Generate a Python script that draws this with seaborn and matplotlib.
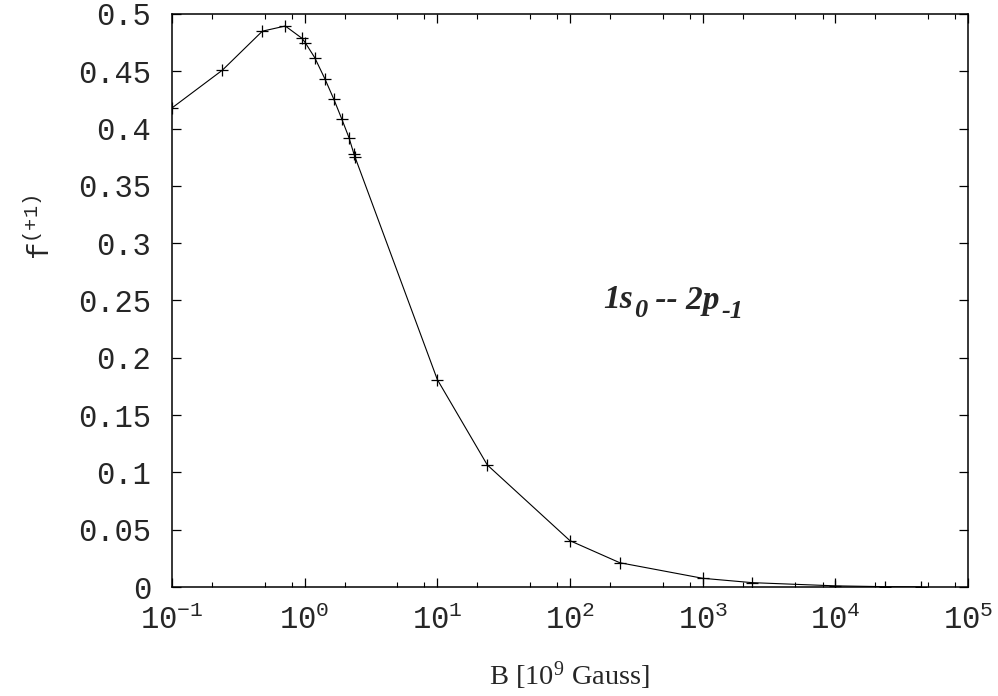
import numpy as np
import pandas as pd
import seaborn as sns
import matplotlib
matplotlib.use("Agg")
import matplotlib.pyplot as plt
from matplotlib.ticker import FixedLocator, FuncFormatter

# field strength B [10^9 Gauss] and oscillator strength f(+1)
B = [0.1, 0.24, 0.48, 0.715, 0.955, 1.01, 1.19, 1.42, 1.66, 1.90, 2.16, 2.35, 2.40,
     10.0, 23.8, 100.0, 237.0, 1000.0, 2360.0, 10000.0, 23600.0, 44000.0]
f = [0.418, 0.451, 0.485, 0.4895, 0.4788, 0.475, 0.462, 0.4435, 0.4256, 0.4087, 0.392, 0.378, 0.375,
     0.181, 0.1065, 0.0404, 0.0212, 0.0076, 0.0038, 0.0010, 0.0003, 0.0001]
yticks = [0, 0.05, 0.1, 0.15, 0.2, 0.25, 0.3, 0.35, 0.4, 0.45, 0.5]
xdecades = [-1, 0, 1, 2, 3, 4, 5]

df = pd.DataFrame({"B": B, "f": f})

sns.set_style("ticks")
plt.rcParams["font.family"] = ["Liberation Mono", "DejaVu Sans"]

fig = plt.figure(figsize=(9.98, 6.96), dpi=100)
ax = fig.add_axes([0.1723, 0.1566, 0.7977, 0.8233])

sns.lineplot(data=df, x="B", y="f", ax=ax, color="black", linewidth=0.8,
             marker="+", markersize=8, markeredgewidth=0.9, markeredgecolor="black",
             sort=False, estimator=None)

ax.set_xscale("log")
ax.set_xlim(0.1, 1e5)
ax.set_ylim(0, 0.5)

# ticks
ax.xaxis.set_major_locator(FixedLocator([10.0 ** d for d in xdecades]))
minors = [m * 10.0 ** d for d in xdecades[:-1] for m in (2, 5, 8)]
ax.xaxis.set_minor_locator(FixedLocator(minors))
ax.xaxis.set_major_formatter(FuncFormatter(
    lambda v, p: r"$\mathregular{10^{%d}}$" % int(round(np.log10(v)))))
ax.xaxis.set_minor_formatter(FuncFormatter(lambda v, p: ""))
ax.set_yticks(yticks)
ax.set_yticklabels([("%g" % t) for t in yticks])

ax.tick_params(which="both", direction="in", top=True, right=True, color="black")
ax.tick_params(which="major", length=6.5, width=0.9)
ax.tick_params(which="minor", length=3.5, width=0.8)
ax.tick_params(axis="y", labelsize=22, pad=15)
ax.tick_params(axis="x", labelsize=22, pad=13)
for s in ax.spines.values():
    s.set_linewidth(1.1)
    s.set_color("black")

ax.set_xlabel(r"B [$\mathregular{10^9}$ Gauss]", family="Liberation Serif", fontsize=20.5, labelpad=17)
ax.set_ylabel(r"$\mathregular{f^{(+1)}}$", family="Liberation Mono", fontsize=21)
ax.yaxis.set_label_coords(-0.146, 0.628)

# transition label, built piecewise so the subscripts sit low and stay fairly large
lab = dict(family="Liberation Serif", fontweight="bold", style="italic")
t1 = ax.text(177, 0.2435, "1s", fontsize=24, va="baseline", ha="left", **lab)
t2 = ax.annotate("0", xy=(1, 0), xycoords=t1, xytext=(1, -5), textcoords="offset points",
                 fontsize=19, va="bottom", ha="left", **lab)
t3 = ax.annotate(" -- 2p", xy=(1, 0), xycoords=t2, xytext=(0, 4), textcoords="offset points",
                 fontsize=24, va="bottom", ha="left", **lab)
t4 = ax.annotate("-1", xy=(1, 0), xycoords=t3, xytext=(1, -5), textcoords="offset points",
                 fontsize=19, va="bottom", ha="left", **lab)

fig.savefig("out.png", dpi=100)
